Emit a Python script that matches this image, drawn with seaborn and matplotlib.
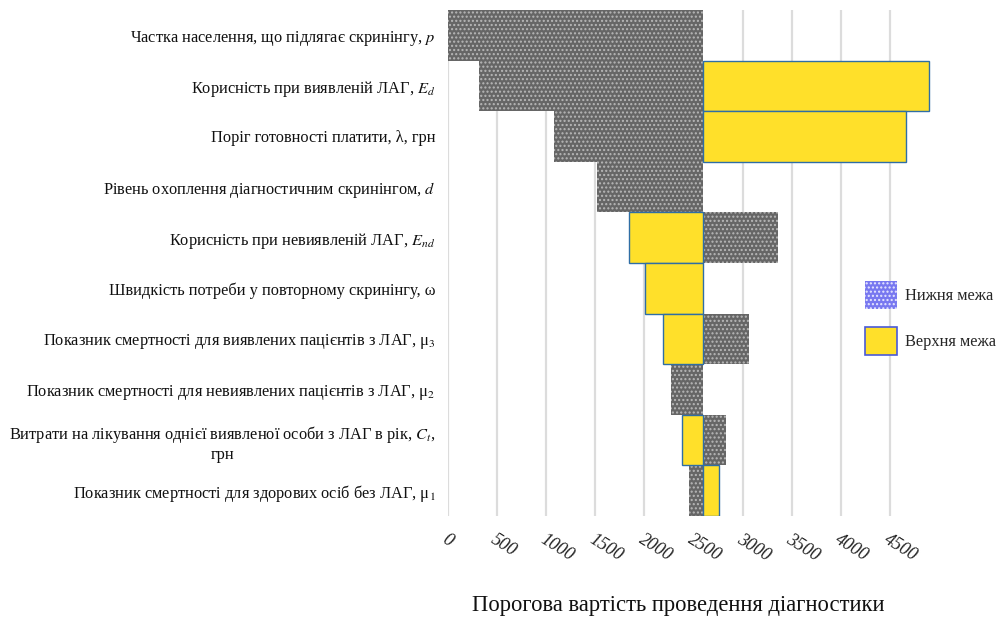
import numpy as np
import pandas as pd
import matplotlib
matplotlib.use("Agg")
import matplotlib.pyplot as plt
from matplotlib.patches import Patch
import seaborn as sns

# ---------------- data ----------------
categories = [
    "Частка населення, що підлягає скринінгу, $p$",
    "Корисність при виявленій ЛАГ, $E_d$",
    "Поріг готовності платити, λ, грн",
    "Рівень охоплення діагностичним скринінгом, $d$",
    "Корисність при невиявленій ЛАГ, $E_{nd}$",
    "Швидкість потреби у повторному скринінгу, ω",
    "Показник смертності для виявлених пацієнтів з ЛАГ, μ$_3$",
    "Показник смертності для невиявлених пацієнтів з ЛАГ, μ$_2$",
    "Витрати на лікування однієї виявленої особи з ЛАГ в рік, $C_t$,\nгрн",
    "Показник смертності для здорових осіб без ЛАГ, μ$_1$",
]
base_value = 2600
lower_bound = [0, 319, 1079, 1517, 3364, 2600, 3068, 2268, 2828, 2458]
upper_bound = [2600, 4898, 4664, 2600, 1846, 2006, 2193, 2600, 2380, 2763]
x_ticks = [0, 500, 1000, 1500, 2000, 2500, 3000, 3500, 4000, 4500]
legend_labels = ["Нижня межа", "Верхня межа"]
x_label = "Порогова вартість проведення діагностики"

df = pd.DataFrame({
    "param": categories,
    "low_delta": np.array(lower_bound) - base_value,
    "high_delta": np.array(upper_bound) - base_value,
})

# ---------------- style ----------------
sns.set_theme(style="white")
plt.rcParams["font.family"] = ["Liberation Serif", "DejaVu Serif"]
plt.rcParams["mathtext.fontset"] = "stix"
plt.rcParams["hatch.linewidth"] = 1.0

fig = plt.figure(figsize=(10.06, 6.22), dpi=100)
ax = fig.add_axes([448 / 1006, 1 - 516 / 622, (939 - 448) / 1006, (516 - 10) / 622])

gray_face = "#666666"
gray_hatch = "#b8b8b8"
yellow = "#FFE02A"
yellow_edge = "#2F6EA5"

for xv in x_ticks:
    ax.axvline(xv, color="#dcdcdc", lw=1.6, zorder=0)

sns.barplot(data=df, y="param", x="low_delta", orient="h", left=base_value,
            width=1.0, color=gray_face, edgecolor=gray_hatch, linewidth=0,
            hatch="....", ax=ax, zorder=2, saturation=1)
sns.barplot(data=df, y="param", x="high_delta", orient="h", left=base_value,
            width=1.0, color=yellow, edgecolor=yellow_edge, linewidth=1.0,
            ax=ax, zorder=3, saturation=1)

# no outline for zero-length bars
for p in ax.patches:
    if abs(p.get_width()) < 1e-9:
        p.set_linewidth(0)

ax.set_xlim(0, 5000)
ax.set_ylim(len(categories) - 0.5, -0.5)
ax.set_xticks(x_ticks)
ax.set_xticklabels([str(t) for t in x_ticks], rotation=-32, ha="left",
                   rotation_mode="anchor", fontstyle="italic", fontsize=13,
                   color="#222222")
ax.tick_params(axis="x", length=0, pad=11)
ax.tick_params(axis="y", length=0, pad=9, labelsize=11.8, labelcolor="#111111")
for lbl in ax.get_yticklabels():
    lbl.set_multialignment("center")
ax.set_xlabel("")
ax.set_ylabel("")
for s in ax.spines.values():
    s.set_visible(False)

fig.text(678 / 1006, 1 - 606 / 622, x_label, ha="center", va="center",
         fontsize=16.3, color="#111111")

handles = [
    Patch(facecolor="#7878f0", edgecolor="#e8e8ff", hatch="....", linewidth=0),
    Patch(facecolor=yellow, edgecolor="#4a5ad8", linewidth=1.2),
]
fig.legend(handles, legend_labels, loc="center left",
           bbox_to_anchor=(862 / 1006, 1 - 318 / 622), frameon=False,
           fontsize=11.8, handlelength=1.95, handleheight=2.3,
           labelspacing=1.05, handletextpad=0.45, borderaxespad=0,
           borderpad=0.2)

fig.savefig("out.png", dpi=100)
